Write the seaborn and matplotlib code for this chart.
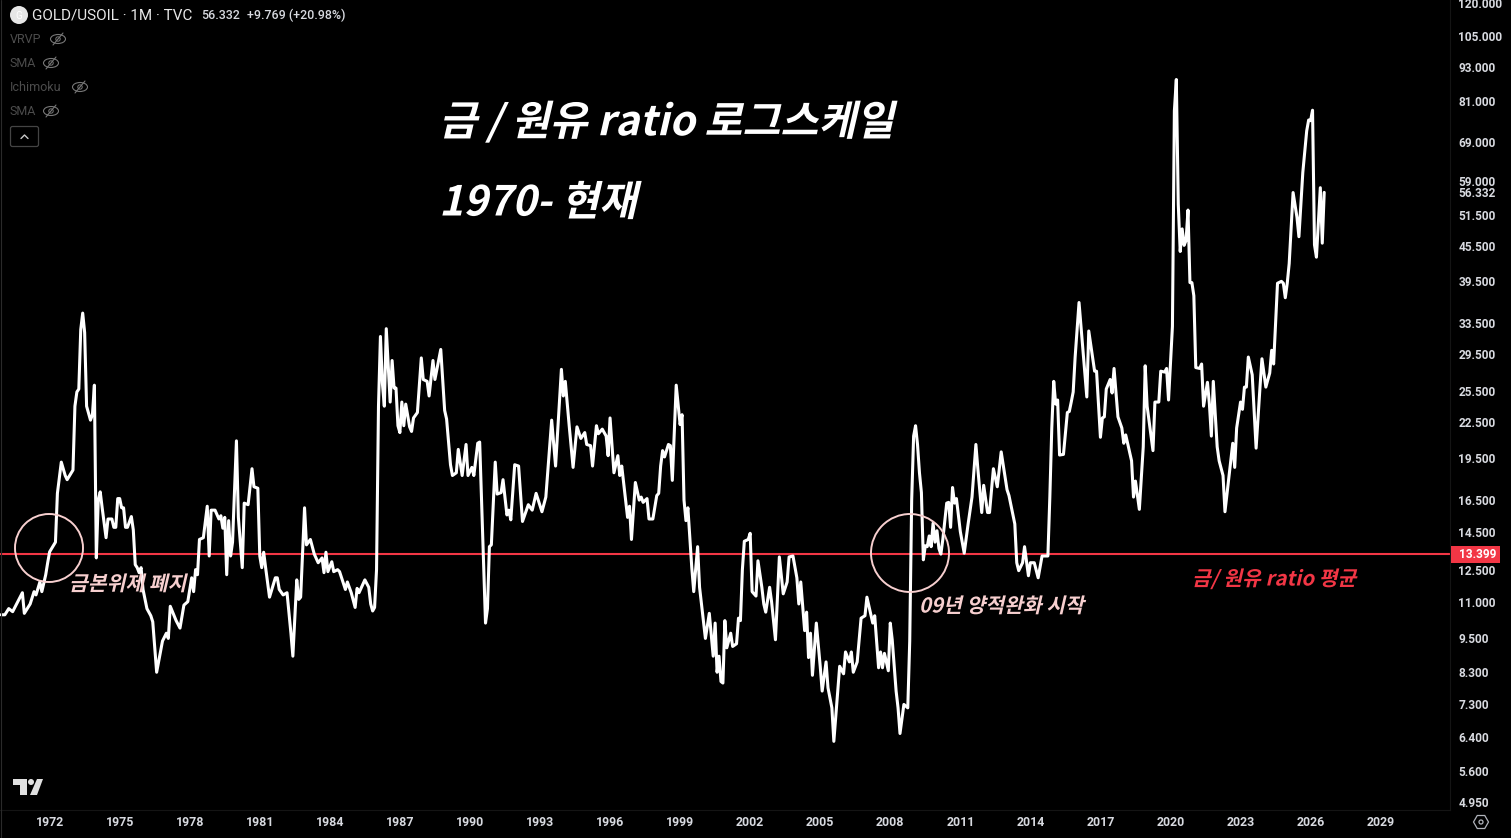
import pandas as pd
import seaborn as sns
import matplotlib.pyplot as plt
import matplotlib.patheffects as pe
from matplotlib.lines import Line2D
from matplotlib.patches import Circle, Ellipse, FancyBboxPatch, Polygon, Rectangle, RegularPolygon
from matplotlib.ticker import NullLocator
from matplotlib.transforms import Affine2D

# gold / oil ratio. months counted from Dec 1969
months_70s = [0, 2, 4, 6, 11, 12, 15, 17, 18, 20, 21, 23, 24, 25, 28, 29, 31, 33, 34, 37, 38, 39, 40, 41, 42, 43, 44,
              46, 47, 48, 49, 50, 51, 52, 54, 55, 56, 57, 58, 59, 60, 61, 62, 63, 64, 65, 67, 68, 69, 70, 71, 72, 73,
              75, 77, 78, 80, 83, 85, 86, 87, 88, 90, 92, 94, 96, 98, 99, 100, 101, 102, 104, 106, 107, 108, 110, 112,
              113, 114, 115, 116, 117, 118, 119]
ratio_70s = [10.44, 10.44, 10.7, 10.57, 11.4, 10.5, 10.9, 11.45, 11.3, 11.9, 11.45, 12.25, 12.85, 13.42, 13.95, 16.95,
             19.2, 18.2, 17.9, 18.6, 24, 25.4, 25.7, 32.6, 34.8, 32.2, 24, 22.7, 23.2, 26.1, 13.1, 16.5, 17.05, 16,
             14.2, 15.3, 15.3, 15.3, 14.8, 14.8, 16.6, 16.6, 16, 16, 14.8, 14.8, 15.45, 14.65, 12.75, 12.6, 12.35, 12.6,
             11.55, 10.7, 10.4, 10.15, 8.3, 9.4, 9.7, 9.5, 10.8, 10.6, 10.2, 9.9, 10.85, 11, 12.1, 11.45, 12.5, 12.25,
             14.1, 14.2, 16.1, 13.2, 15.85, 15.85, 15.3, 15.5, 14.75, 15.4, 12.25, 15.2, 13.2, 13.95]

months_80s = [121, 122, 124, 125, 127, 129, 130, 132, 133, 134, 135, 136, 138, 141, 142, 143, 145, 147, 149, 150, 152,
              153, 154, 156, 157, 159, 161, 163, 165, 166, 167, 168, 170, 171, 173, 174, 177, 178, 180, 182, 183, 184,
              187, 189, 190, 191, 192, 193, 194, 195, 196, 197, 198, 200, 201, 202, 203, 204, 205, 206, 207, 208, 210,
              211, 212, 214, 216, 217, 219, 220, 222, 223, 226, 228, 229, 231, 232, 234, 235, 237, 239, 240]
ratio_80s = [20.9, 15.4, 12.6, 16.3, 16.2, 18.7, 17.4, 17.3, 13.2, 12.6, 13.4, 12.6, 11.2, 12.1, 12.1, 11.55, 11.3, 11.4,
             9.7, 8.85, 12, 11.1, 11.2, 16, 13.8, 14.1, 13.3, 12.85, 13.1, 12.35, 13.4, 12.4, 12.9, 12.4, 12.5, 12.4,
             11.55, 11.9, 11.4, 10.75, 11.6, 11.4, 12, 11.65, 10.9, 10.6, 10.75, 12.5, 24, 31.7, 26.3, 24, 32.7, 24.4,
             28.8, 25.8, 25.8, 22.2, 21.6, 24.4, 22.2, 24.2, 22.1, 21.7, 22.9, 23.4, 29.1, 26.7, 26.5, 25, 28.8, 26.7,
             30.1, 23.6, 22.8, 19, 18.2, 18.4, 20.2, 18.2, 20.6, 18.2]

months_90s = [242, 243, 245, 246, 249, 250, 251, 252, 254, 255, 257, 258, 260, 261, 262, 264, 266, 268, 271, 273, 275,
              278, 280, 283, 285, 288, 289, 290, 292, 294, 296, 298, 300, 301, 303, 304, 306, 307, 309, 311, 312, 313,
              315, 317, 318, 319, 322, 323, 324, 326, 328, 329, 330, 332, 333, 335, 337, 338, 339, 340, 341, 343, 344,
              345, 347, 349, 350, 351, 352, 353, 355, 356, 358, 359]
ratio_90s = [18.8, 18.2, 20.7, 20.8, 10.1, 10.7, 13.7, 13.8, 19.2, 16.9, 17, 17.9, 15.55, 15.85, 15.25, 19, 18.9, 15.15,
             16.2, 15.85, 16.95, 15.75, 16.7, 22.7, 18.9, 27.8, 25, 26.5, 22.2, 18.8, 22.1, 21.1, 21.6, 20.6, 20.5,
             18.9, 22.2, 21.5, 21.9, 21.3, 19.7, 22.9, 18.4, 19.7, 18.2, 18.9, 15.4, 16.1, 14.1, 17.7, 16.5, 16.7,
             16.35, 16.6, 15.3, 15.3, 16.8, 16.95, 18.9, 20.1, 19.6, 20.6, 20.5, 17.85, 26.1, 22.3, 23.2, 16.5, 15.2,
             16, 12.6, 11.45, 13.7, 11.65]

months_00s = [362, 364, 366, 367, 368, 369, 370, 371, 372, 373, 375, 376, 378, 379, 380, 381, 382, 384, 385, 386, 388,
              389, 391, 392, 393, 395, 396, 398, 400, 402, 404, 405, 407, 409, 410, 411, 413, 414, 415, 416, 417, 419,
              421, 422, 424, 425, 427, 428, 431, 433, 434, 436, 437, 438, 440, 442, 444, 445, 448, 449, 450, 451, 452,
              453, 454, 456, 457, 458, 460, 461, 462, 464, 466, 467, 468, 469, 470, 471, 472, 473, 474, 475, 476, 477,
              478, 479]
ratio_00s = [9.5, 10.5, 8.85, 10.1, 8.3, 8.85, 8, 7.95, 10.2, 9.15, 9.7, 9.2, 9.3, 10.3, 10.2, 12.5, 14, 14.1, 14.45,
             11.45, 11.25, 12.95, 11.65, 10.9, 10.55, 11.65, 11, 9.45, 13.15, 11.35, 11.9, 13.15, 13.2, 12.1, 10.9,
             11.9, 9.8, 10.55, 8.8, 9.7, 8.2, 10.1, 8.5, 7.7, 8.65, 7.8, 7.2, 6.3, 8.5, 8.25, 9, 8.65, 9, 8.3, 8.65,
             10.3, 10.4, 11.2, 10.1, 10.4, 9.4, 8.45, 9, 8.45, 8.95, 8.35, 10.1, 9.45, 7.7, 7.2, 6.5, 7.3, 7.2, 9.4,
             16.5, 21.3, 22.2, 20.6, 18.4, 17, 13, 13.75, 13.7, 14.3, 13.7, 15.05]

months_10s = [480, 481, 482, 483, 484, 486, 487, 488, 489, 490, 491, 493, 495, 497, 499, 501, 502, 504, 505, 507, 508,
              510, 512, 514, 517, 518, 521, 522, 523, 525, 526, 528, 529, 531, 533, 535, 538, 539, 540, 541, 542, 543,
              544, 546, 548, 549, 550, 551, 552, 554, 558, 559, 562, 563, 565, 566, 567, 568, 570, 571, 572, 574, 576,
              577, 578, 581, 582, 583, 585, 587, 588, 589, 592, 593, 595, 596, 598, 599]
ratio_10s = [13.95, 14.6, 13.6, 13.3, 14.1, 16.3, 16.35, 14.8, 17.35, 16.3, 16.6, 14.55, 13.35, 15, 16.7, 20.6, 18.7,
             15.7, 17.5, 15.7, 15.7, 18.7, 17.4, 20, 17.2, 16.8, 15, 12.85, 12.45, 12.85, 13.7, 12.2, 12.85, 12.85,
             12.1, 13.2, 13.2, 16.7, 22, 26.5, 24.2, 24.6, 19.75, 19.8, 23.4, 23.5, 24.4, 25.4, 29.2, 36.3, 24.9, 32.4,
             27.6, 27.6, 21.2, 22.9, 23, 25.7, 26.7, 25.3, 27.9, 23, 22, 20.7, 21.4, 19.3, 16.7, 17.8, 15.9, 20.4,
             28.2, 24, 20.1, 24.4, 24.4, 27.6, 27.5, 27.9]

months_20s = [600, 602, 603, 604, 605, 606, 607, 608, 609, 610, 611, 612, 613, 614, 616, 617, 618, 620, 621, 622, 623,
              625, 626, 628, 629, 633, 634, 635, 637, 638, 639, 640, 641, 643, 645, 647, 648, 650, 652, 653, 654, 656,
              658, 659, 660, 661, 662, 664, 666, 667, 669, 671, 672, 673, 674, 675, 676, 678, 679, 680]
ratio_20s = [24.6, 33, 78, 88.4, 53.7, 44.5, 48.7, 45.6, 46.5, 52.5, 39.3, 39.3, 37.3, 28, 27.9, 28.4, 24, 26.4, 24.2,
             21.3, 26.5, 20.4, 19.3, 18.2, 15.75, 20.7, 18.8, 22, 24.4, 23.7, 25.9, 25.9, 29.2, 27.2, 20.3, 25.9, 29,
             25.9, 27.4, 30, 28.4, 39.2, 39.5, 39.2, 37, 39.2, 42.4, 56.3, 51, 47.2, 61, 72, 75.2, 75, 78.2, 45.7, 43.5,
             57.4, 46, 56.332]

mean_ratio = 13.399
last_ratio = 56.332
price_ticks = [120, 105, 93, 81, 69, 59, 51.5, 45.5, 39.5, 33.5, 29.5, 25.5, 22.5, 19.5, 16.5, 14.5, 12.5, 11, 9.5, 8.3,
               7.3, 6.4, 5.6, 4.95]
year_ticks = [1972, 1975, 1978, 1981, 1984, 1987, 1990, 1993, 1996, 1999, 2002, 2005, 2008, 2011, 2014, 2017, 2020, 2023,
              2026, 2029]

TEXT_COL = '#d8dae0'
RED = '#f23645'
PINK = '#f7cfcf'
GREY = '#4c4c4c'
KR = ['Noto Sans CJK KR', 'DejaVu Sans']
UI = ['Roboto', 'DejaVu Sans']

sns.set_theme(style='dark', rc={'figure.facecolor': 'black', 'axes.facecolor': 'black', 'savefig.facecolor': 'black'})
plt.rcParams['font.family'] = UI


class Slant(pe.AbstractPathEffect):
    # the CJK fonts have no italic cut, so lean the glyphs here
    def __init__(self, deg=13):
        super().__init__()
        self.deg = deg

    def draw_path(self, renderer, gc, tpath, affine, rgbFace=None):
        renderer.draw_path(gc, tpath, Affine2D().skew_deg(self.deg, 0) + affine, rgbFace)


df = pd.DataFrame({
    'month': months_70s + months_80s + months_90s + months_00s + months_10s + months_20s,
    'ratio': ratio_70s + ratio_80s + ratio_90s + ratio_00s + ratio_10s + ratio_20s,
})
df['year'] = 1969 + 11 / 12 + df['month'] / 12

fig = plt.figure(figsize=(15.11, 8.38), dpi=100)
W, H = 1511, 838
ax = fig.add_axes([0, (H - 810) / H, 1450 / W, 810 / H])
pix = Affine2D().scale(1, -1).translate(0, H)  # picture pixels, y going down

x_lo, x_hi = 1969.875, 2031.97
mean_line, = ax.plot([x_lo - 1, x_hi + 1], [mean_ratio, mean_ratio], color=RED, lw=1.5, zorder=1, scalex=False)
sns.lineplot(data=df, x='year', y='ratio', color='white', lw=2.2, estimator=None, sort=False, ax=ax, zorder=2,
             solid_joinstyle='round')

ax.set_yscale('log')
ax.set_xlim(x_lo, x_hi)
ax.set_ylim(4.79, 121.4)
# the platform draws its line a touch under the tick spacing
mean_line.set_transform(ax.transData + Affine2D().translate(0, -2))
ax.set_xlabel('')
ax.set_ylabel('')
ax.grid(False)
ax.yaxis.tick_right()
ax.yaxis.set_minor_locator(NullLocator())
ax.set_yticks(price_ticks + [last_ratio])
ax.set_yticklabels([f'{v:.3f}' for v in price_ticks] + [f'{last_ratio:.3f}'])
ax.set_xticks(year_ticks)
ax.set_xticklabels([str(y) for y in year_ticks])
ax.tick_params(axis='y', length=0, pad=6, labelsize=8.6, labelcolor=TEXT_COL)
ax.tick_params(axis='x', length=0, pad=4.5, labelsize=8.9, labelcolor=TEXT_COL)
for lab in ax.get_xticklabels() + ax.get_yticklabels():
    lab.set_fontweight('bold')
for side in ['top', 'left']:
    ax.spines[side].set_visible(False)
for side in ['right', 'bottom']:
    ax.spines[side].set_color('#141414')
    ax.spines[side].set_linewidth(0.8)

# price flag on the axis for the mean line
fig.add_artist(Rectangle((1451, 546), 49, 17, color=RED, transform=pix, lw=0))
fig.text(1459, 554.5, '13.399', color='white', fontsize=8.6, fontweight='bold', va='center', transform=pix)

# headline and notes
slant = [Slant()]
fig.text(439, 122.5, '금 / 원유 ratio 로그스케일', color='white', fontsize=29.7, fontweight='bold', family=KR,
         va='center', transform=pix, path_effects=slant)
fig.text(439, 203.5, '1970- 현재', color='white', fontsize=29.7, fontweight='bold', family=KR,
         va='center', transform=pix, path_effects=slant)
fig.text(69, 584, '금본위제 폐지', color=PINK, fontsize=14.7, fontweight='bold', family=KR,
         va='center', transform=pix, path_effects=slant)
fig.text(919, 606, '09년 양적완화 시작', color=PINK, fontsize=14.7, fontweight='bold', family=KR,
         va='center', transform=pix, path_effects=slant)
fig.text(1192, 579, '금/ 원유 ratio 평균', color=RED, fontsize=14.7, fontweight='bold', family=KR,
         va='center', transform=pix, path_effects=slant)

fig.add_artist(Circle((49, 548), 34, fc='none', ec=PINK, lw=1.4, transform=pix))
fig.add_artist(Circle((910, 553), 39, fc='none', ec=PINK, lw=1.4, transform=pix))

# legend block, top left
fig.add_artist(Circle((19, 15), 9, fc='#e6e6e6', ec='none', transform=pix))
fig.text(19, 15.5, 'G', color='white', fontsize=7, ha='center', va='center', transform=pix)
fig.text(32, 15.5, 'GOLD/USOIL · 1M · TVC', color='#e8e8e8', fontsize=11, va='center', transform=pix)
fig.text(201, 15.5, '56.332', color=TEXT_COL, fontsize=8.9, fontweight='medium', va='center', transform=pix)
fig.text(247, 15.5, '+9.769 (+20.98%)', color=TEXT_COL, fontsize=8.9, fontweight='medium', va='center', transform=pix)

indicators = ['VRVP', 'SMA', 'Ichimoku', 'SMA']
eye_x = [58, 51, 80, 51]
eye_y = [39, 63, 87, 111]
for name, ex, ey in zip(indicators, eye_x, eye_y):
    fig.text(10, ey, name, color=GREY, fontsize=9, va='center', transform=pix)
    fig.add_artist(Ellipse((ex, ey), 15, 9, fc='none', ec='#777777', lw=0.8, transform=pix))
    fig.add_artist(Circle((ex, ey), 2.2, fc='none', ec='#777777', lw=0.7, transform=pix))
    fig.add_artist(Line2D([ex - 5, ex + 5], [ey + 6, ey - 6], color='#777777', lw=0.8, transform=pix))

fig.add_artist(FancyBboxPatch((10.5, 126.5), 28, 20, boxstyle='round,pad=0,rounding_size=2', fc='none', ec='#444444',
                              lw=0.9, transform=pix))
fig.add_artist(Line2D([21, 24.5, 28], [138.5, 135, 138.5], color='#c8c8c8', lw=1, transform=pix))

# TradingView mark
fig.add_artist(Polygon([(13, 779), (27, 779), (27, 795), (20, 795), (20, 785), (13, 785)], fc='#e0e0e0', ec='none',
                       transform=pix))
fig.add_artist(Circle((31, 782), 3, fc='#e0e0e0', ec='none', transform=pix))
fig.add_artist(Polygon([(37, 779), (43, 779), (37, 795), (30, 795)], fc='#e0e0e0', ec='none', transform=pix))

# settings button, bottom right
fig.add_artist(RegularPolygon((1481, 822), 6, radius=7.5, orientation=0.5236, fc='none', ec='#b0b3bb', lw=0.9,
                              transform=pix))
fig.add_artist(Circle((1481, 822), 2, fc='none', ec='#b0b3bb', lw=0.9, transform=pix))

# window edge
fig.add_artist(Line2D([0.5, 0.5], [0, H], color='#2a2a2a', lw=0.8, transform=pix))

fig.savefig('out.png', dpi=100)
